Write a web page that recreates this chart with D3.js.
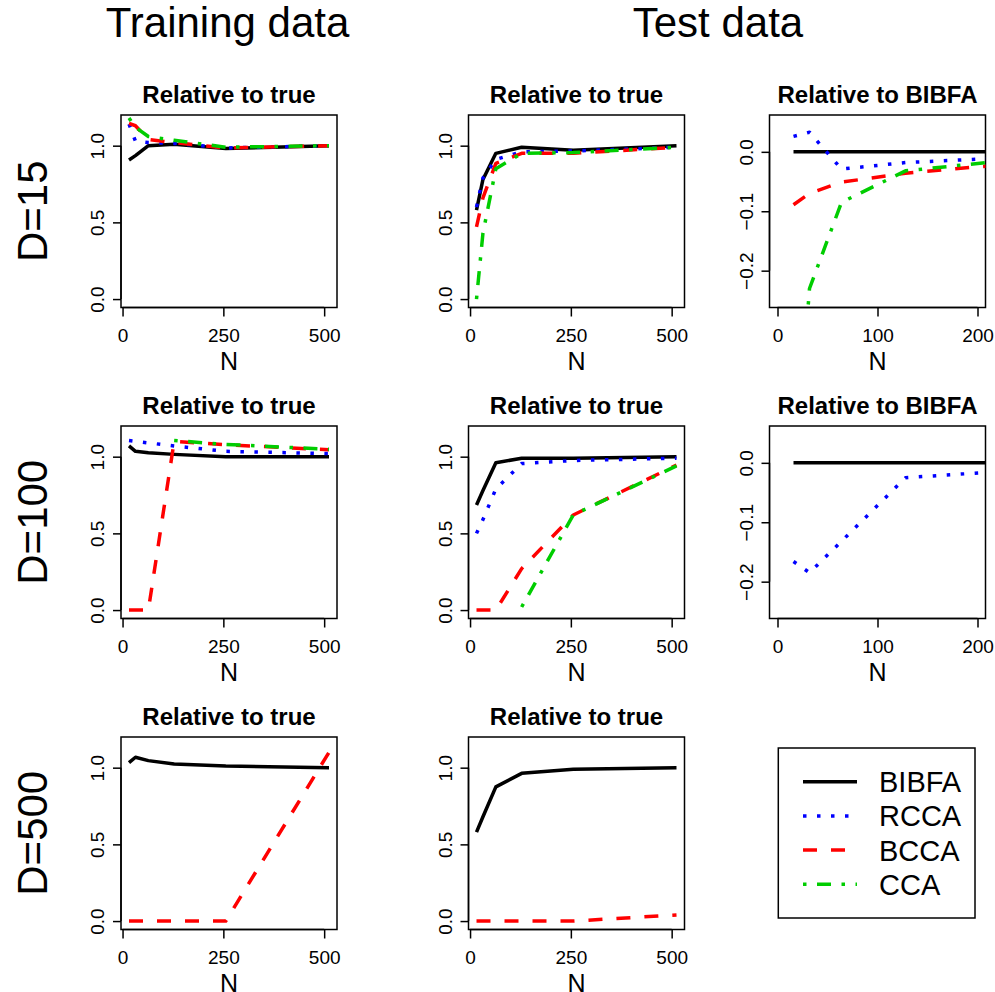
<!DOCTYPE html>
<html>
<head>
<meta charset="utf-8">
<script src="https://cdn.jsdelivr.net/npm/d3@7"></script>
<style>
  body { margin: 0; background: #fff; }
  svg { display: block; }
  svg text { font-family: "Liberation Sans", Arial, Helvetica, sans-serif; fill: #000; }
</style>
</head>
<body>
<div id="main"></div>
<script>
// ---- data ----
const N = [16, 32, 64, 128, 256, 512];
const NRel = [16, 32, 64, 128, 256];
const methods = ["BIBFA", "RCCA", "BCCA", "CCA"];

const xTicksTrue = [0, 250, 500];
const xTicksRel = [0, 100, 200];
const yTicksTrue = [0, 0.5, 1];
const yTicksRel = [-0.2, -0.1, 0];

// rows follow methods: BIBFA, RCCA, BCCA, CCA (null = not available)
const trainD15 = [
  [0.907, 0.935, 1.0, 1.01, 0.982, 1.0],
  [1.14, 1.03, 1.02, 1.015, 0.985, 1.0],
  [1.145, 1.13, 1.04, 1.02, 0.985, 1.0],
  [1.18, 1.12, 1.06, 1.035, 0.99, 1.0]
];
const testD15 = [
  [0.58, 0.78, 0.95, 0.99, 0.97, 1.0],
  [0.60, 0.79, 0.91, 0.96, 0.965, 0.99],
  [0.47, 0.66, 0.885, 0.95, 0.95, 0.99],
  [0.0, 0.43, 0.85, 0.95, 0.955, 0.99]
];
const relD15 = [
  [0, 0, 0, 0, 0],
  [0.026, 0.033, -0.029, -0.018, -0.008],
  [-0.089, -0.07, -0.051, -0.036, -0.017],
  [-0.58, -0.23, -0.085, -0.032, -0.01]
];

const trainD100 = [
  [1.07, 1.035, 1.025, 1.015, 1.0, 1.0],
  [1.105, 1.1, 1.09, 1.07, 1.035, 1.02],
  [0, 0, 0, 1.1, 1.078, 1.045],
  [null, null, null, 1.105, 1.08, 1.048]
];
const testD100 = [
  [0.685, 0.78, 0.96, 0.99, 0.99, 1.0],
  [0.5, 0.59, 0.79, 0.955, 0.975, 0.99],
  [0, 0, 0, 0.27, 0.62, 0.945],
  [null, null, null, 0.02, 0.62, 0.94]
];
const relD100 = [
  [0, 0, 0, 0, 0],
  [-0.166, -0.185, -0.132, -0.025, -0.011],
  [null, null, null, null, null],
  [null, null, null, null, null]
];

const trainD500 = [
  [1.033, 1.068, 1.046, 1.024, 1.011, 1.0],
  [null, null, null, null, null, null],
  [0, 0, 0, 0, 0, 1.1],
  [null, null, null, null, null, null]
];
const testD500 = [
  [0.58, 0.68, 0.875, 0.963, 0.99, 1.0],
  [null, null, null, null, null, null],
  [0, 0, 0, 0, 0, 0.04],
  [null, null, null, null, null, null]
];

const colHeads = ["Training data", "Test data"];
const rowHeads = ["D=15", "D=100", "D=500"];

// ---- layout / styles ----
const colLeft = [121, 468.5, 769.5];
const rowTop = [115, 426, 737];
const boxW = 216, boxH = 192.5;

const lineStyles = [
  { color: "#000000", dash: null },
  { color: "#0000FF", dash: "3.5 10.5" },
  { color: "#FF0000", dash: "14 14" },
  { color: "#00CD00", dash: "3.5 10.5 14 10.5" }
];

class Panel {
  constructor(svg, config) {
    this.svg = svg;
    this.config = config;
    this.g = null;
    this.xScale = null;
    this.yScale = null;
    this.cline = null;

    this.createGroup();
  }

  createGroup() {
    let c = this.config;
    this.g = this.svg.append("g")
      .attr("transform", `translate(${c.left},${c.top})`);

    this.g.append("clipPath")
      .attr("id", c.id)
      .append("rect")
      .attr("width", boxW)
      .attr("height", boxH);
  }

  createScales() {
    let c = this.config;
    if (c.rel) {
      // xlim c(0,200), ylim c(-0.25,0.05), 4% expansion
      this.xScale = d3.scaleLinear().domain([-8, 208]).range([0, boxW]);
      this.yScale = d3.scaleLinear().domain([-0.262, 0.062]).range([boxH, 0]);
    } else {
      let ext = d3.extent(c.xs);
      let pad = (ext[1] - ext[0]) * 0.04;
      this.xScale = d3.scaleLinear().domain([ext[0] - pad, ext[1] + pad]).range([0, boxW]);
      this.yScale = d3.scaleLinear().domain([-0.055, 1.2]).range([boxH, 0]);
    }
  }

  createLine() {
    this.cline = d3.line()
      .defined(d => d.val != null)
      .x(d => this.xScale(d.n))
      .y(d => this.yScale(d.val));
  }

  createAxis() {
    let c = this.config;
    let xTicks = c.rel ? xTicksRel : xTicksTrue;
    let yTicks = c.rel ? yTicksRel : yTicksTrue;
    let fmtY = d => d3.format(".1f")(d).replace("-", "\u2212");

    let xAxis = d3.axisBottom(this.xScale).tickValues(xTicks).tickSize(9).tickPadding(5)
      .tickFormat(d3.format("d"));
    let yAxis = d3.axisLeft(this.yScale).tickValues(yTicks).tickSize(8).tickPadding(5)
      .tickFormat(fmtY);

    let gx = this.g.append("g")
      .attr("transform", `translate(0,${boxH})`)
      .call(xAxis);
    gx.select(".domain").attr("d", `M${this.xScale(xTicks[0])},0H${this.xScale(xTicks[xTicks.length - 1])}`);
    gx.selectAll("line, path").attr("stroke", "#000").attr("stroke-width", 1.5);
    gx.selectAll("text")
      .attr("font-size", 19)
      .attr("font-family", null)
      .attr("dy", null)
      .attr("y", 34);

    let gy = this.g.append("g").call(yAxis);
    gy.select(".domain").attr("d", `M0,${this.yScale(yTicks[0])}V${this.yScale(yTicks[yTicks.length - 1])}`);
    gy.selectAll("line, path").attr("stroke", "#000").attr("stroke-width", 1.5);
    gy.selectAll("text")
      .attr("font-size", 19)
      .attr("font-family", null)
      .attr("x", null)
      .attr("dy", null)
      .attr("text-anchor", "middle")
      .attr("transform", "translate(-17,0) rotate(-90)");

    this.g.append("rect")
      .attr("width", boxW)
      .attr("height", boxH)
      .attr("fill", "none")
      .attr("stroke", "#000")
      .attr("stroke-width", 1.5);

    this.g.append("text")
      .attr("x", boxW / 2)
      .attr("y", -12.3)
      .attr("text-anchor", "middle")
      .attr("font-size", 24)
      .attr("font-weight", "bold")
      .text(c.title);

    this.g.append("text")
      .attr("x", boxW / 2)
      .attr("y", boxH + 62)
      .attr("text-anchor", "middle")
      .attr("font-size", 25)
      .text("N");
  }

  render() {
    let c = this.config;
    let series = c.data.map((vals, i) => vals.map((v, j) => ({ n: c.xs[j], val: v, i: i })));

    this.g.append("g")
      .attr("clip-path", `url(#${c.id})`)
      .selectAll("path.series")
      .data(series)
      .join("path")
      .attr("class", "series")
      .attr("fill", "none")
      .attr("stroke", (d, i) => lineStyles[i].color)
      .attr("stroke-width", 3.5)
      .attr("stroke-dasharray", (d, i) => lineStyles[i].dash)
      .attr("stroke-linejoin", "round")
      .attr("d", this.cline);
  }
}

function drawLegend(svg) {
  let box = { x: 778.3, y: 748, w: 196.7, h: 170 };
  let g = svg.append("g");
  g.append("rect")
    .attr("x", box.x).attr("y", box.y)
    .attr("width", box.w).attr("height", box.h)
    .attr("fill", "none").attr("stroke", "#000").attr("stroke-width", 1.5);

  let rows = g.selectAll("g.item")
    .data(methods)
    .join("g")
    .attr("class", "item")
    .attr("transform", (d, i) => `translate(0,${box.y + 33.7 + i * 34.2})`);

  rows.append("line")
    .attr("x1", 803).attr("x2", 857)
    .attr("stroke", (d, i) => lineStyles[i].color)
    .attr("stroke-width", 3.5)
    .attr("stroke-dasharray", (d, i) => lineStyles[i].dash);

  rows.append("text")
    .attr("x", 879)
    .attr("dy", "0.36em")
    .attr("font-size", 29)
    .text(d => d);
}

function main() {
  let svg = d3.select("#main").append("svg")
    .attr("width", 995)
    .attr("height", 992);

  let panels = [
    { row: 0, col: 0, data: trainD15, title: "Relative to true" },
    { row: 0, col: 1, data: testD15, title: "Relative to true" },
    { row: 0, col: 2, data: relD15, title: "Relative to BIBFA", rel: true },
    { row: 1, col: 0, data: trainD100, title: "Relative to true" },
    { row: 1, col: 1, data: testD100, title: "Relative to true" },
    { row: 1, col: 2, data: relD100, title: "Relative to BIBFA", rel: true },
    { row: 2, col: 0, data: trainD500, title: "Relative to true" },
    { row: 2, col: 1, data: testD500, title: "Relative to true" }
  ];

  panels.forEach((p, k) => {
    let cfg = Object.assign({}, p, {
      id: "clip" + k,
      left: colLeft[p.col],
      top: rowTop[p.row],
      xs: p.rel ? NRel : N
    });
    let panel = new Panel(svg, cfg);
    panel.createScales();
    panel.createAxis();
    panel.createLine();
    panel.render();
  });

  // column and row headings
  svg.append("text").attr("x", 227.5).attr("y", 37)
    .attr("text-anchor", "middle").attr("font-size", 42).text(colHeads[0]);
  svg.append("text").attr("x", 718).attr("y", 37)
    .attr("text-anchor", "middle").attr("font-size", 42).text(colHeads[1]);

  rowHeads.forEach((t, i) => {
    svg.append("text")
      .attr("transform", `translate(47,${rowTop[i] + boxH / 2}) rotate(-90)`)
      .attr("text-anchor", "middle")
      .attr("font-size", 42)
      .text(t);
  });

  drawLegend(svg);
}

main();
</script>
</body>
</html>
